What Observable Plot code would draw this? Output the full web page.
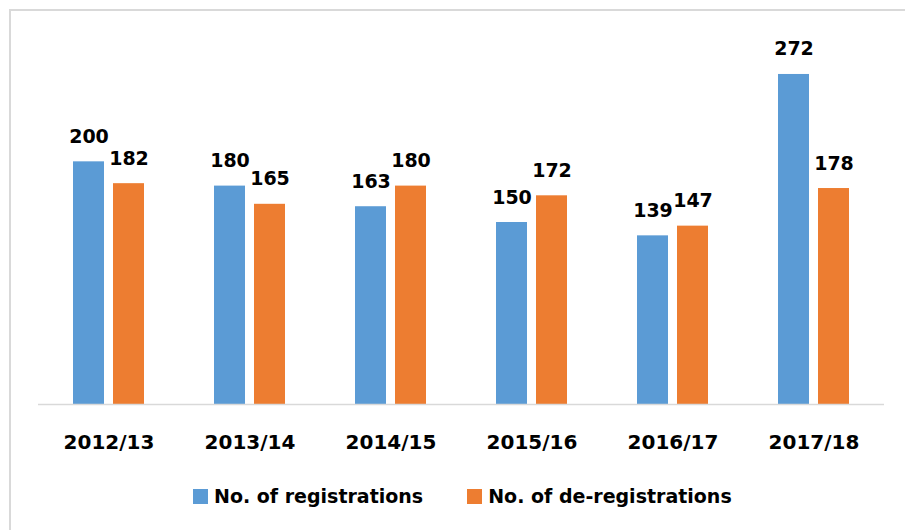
<!DOCTYPE html>
<html>
<head>
<meta charset="utf-8">
<script src="https://cdn.jsdelivr.net/npm/d3@7"></script>
<script src="https://cdn.jsdelivr.net/npm/@observablehq/plot@0.6"></script>
<style>
  html, body { margin: 0; padding: 0; background: #fff; width: 905px; height: 530px; overflow: hidden; }
  #wrap { position: relative; width: 905px; height: 530px; }
  #chart svg { position: absolute; left: 0; top: 0; background: transparent; }
  #frame { position: absolute; left: 9px; top: 9px; width: 1000px; height: 1000px;
           border-top: 2px solid #d9d9d9; border-left: 2px solid #d9d9d9; pointer-events: none; }
  #legend { position: absolute; left: 193px; top: 485px; display: flex; align-items: center;
            font-family: "DejaVu Sans", sans-serif; font-weight: bold; font-size: 19px; color: #000; white-space: nowrap; }
  .item { display: flex; align-items: center; }
  .sw { width: 15px; height: 15px; margin-right: 6px; }
</style>
</head>
<body>
<div id="wrap">
  <div id="chart"></div>
  <div id="frame"></div>
  <div id="legend"></div>
</div>
<script>
const years = ["2012/13", "2013/14", "2014/15", "2015/16", "2016/17", "2017/18"];
const registrations = [200, 180, 163, 150, 139, 272];
const deregistrations = [182, 165, 180, 172, 147, 178];
const seriesNames = ["No. of registrations", "No. of de-registrations"];
const seriesColors = ["#5b9bd5", "#ed7d31"];

const data = years.flatMap((y, i) => [
  {year: y, series: seriesNames[0], value: registrations[i]},
  {year: y, series: seriesNames[1], value: deregistrations[i]}
]);

const chart = Plot.plot({
  width: 905,
  height: 460,
  marginLeft: 38,
  marginRight: 21,
  marginTop: 40,
  marginBottom: 56,
  style: {fontFamily: "DejaVu Sans, sans-serif", fontSize: "20px", fontWeight: "bold", color: "#000", background: "transparent"},
  fx: {domain: years, padding: 0, label: null, axis: "bottom", tickSize: 0, tickPadding: 30},
  x: {domain: seriesNames, axis: null, paddingInner: 0.22, paddingOuter: 0.85},
  y: {domain: [0, 300], axis: null},
  color: {domain: seriesNames, range: seriesColors},
  marks: [
    Plot.barY(data, {fx: "year", x: "series", y: "value", fill: "series"}),
    Plot.ruleY([0], {stroke: "#d9d9d9", strokeWidth: 1.5}),
    Plot.text(data, {fx: "year", x: "series", y: "value", text: d => String(d.value),
      lineAnchor: "bottom", dy: -19, fontSize: 19, fontWeight: "bold", fill: "#000"})
  ]
});
document.getElementById("chart").appendChild(chart);

const legend = document.getElementById("legend");
seriesNames.forEach((name, i) => {
  const item = document.createElement("div");
  item.className = "item";
  if (i > 0) item.style.marginLeft = "44px";
  const sw = document.createElement("span");
  sw.className = "sw";
  sw.style.background = seriesColors[i];
  const label = document.createElement("span");
  label.textContent = name;
  item.appendChild(sw);
  item.appendChild(label);
  legend.appendChild(item);
});
</script>
</body>
</html>
